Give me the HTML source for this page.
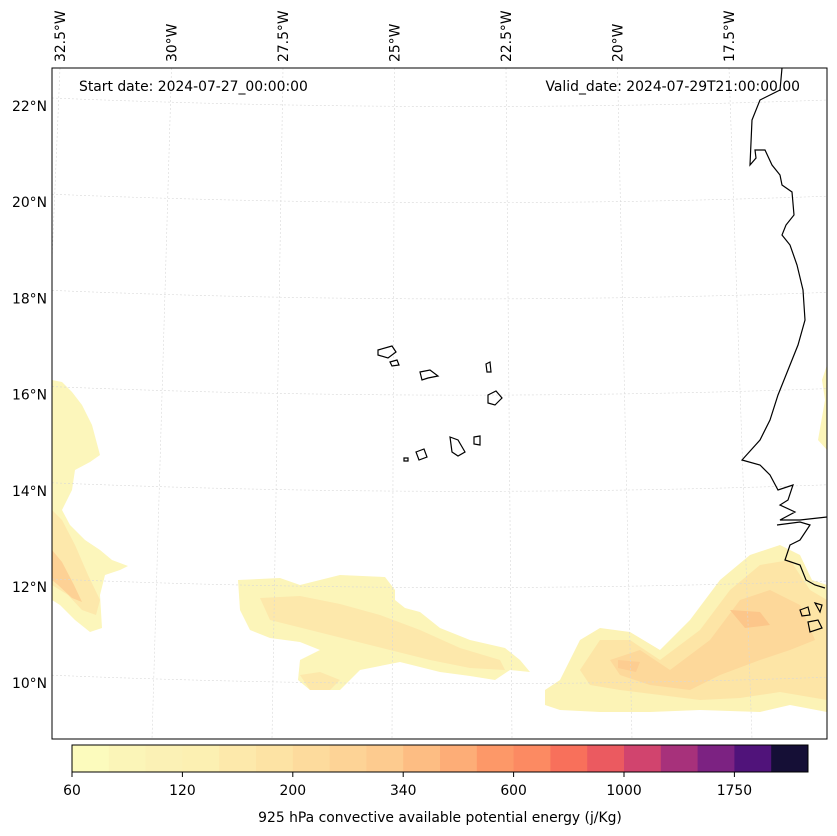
<!DOCTYPE html>
<html><head><meta charset="utf-8"><style>
body{margin:0;background:#fff}
svg{display:block;font-family:"DejaVu Sans","Liberation Sans",sans-serif}
</style></head><body>
<svg id="c" width="837" height="836" viewBox="0 0 837 836">
<defs><clipPath id="mapclip"><rect x="52" y="68" width="775" height="671"/></clipPath></defs>
<rect x="52" y="68" width="775" height="671" fill="#fff"/>
<g clip-path="url(#mapclip)">
 <path d="M52,380 L62,382 L72,392 L82,405 L92,425 L100,455 L90,462 L75,470 L72,490 L62,510 L70,525 L85,540 L100,550 L112,560 L128,566 L120,570 L105,575 L100,595 L102,628 L90,632 L75,620 L60,605 L52,600 Z" fill="#fcf6bb"/>
 <path d="M52,510 L62,520 L75,545 L88,575 L100,600 L96,615 L82,610 L68,595 L52,585 Z" fill="#fde8ab"/>
 <path d="M52,550 L62,562 L74,585 L82,602 L72,598 L58,585 L52,580 Z" fill="#fdd195"/>
 <path d="M238,580 L280,578 L300,585 L340,575 L385,577 L395,590 L395,600 L405,608 L420,612 L440,628 L470,640 L505,648 L520,660 L530,672 L510,670 L495,680 L470,676 L440,672 L400,662 L360,670 L340,690 L310,690 L298,680 L300,660 L320,650 L300,642 L270,638 L250,630 L240,610 Z" fill="#fcf5b9"/>
 <path d="M260,598 L300,596 L340,604 L380,615 L420,630 L460,648 L500,660 L505,670 L470,668 L430,660 L390,650 L350,640 L310,630 L270,620 Z" fill="#fde8ab"/>
 <path d="M300,675 L320,672 L340,680 L330,690 L310,690 Z" fill="#fde8ab"/>
 <path d="M545,690 L560,680 L580,640 L600,628 L630,632 L660,650 L690,620 L720,580 L750,555 L780,545 L800,555 L812,580 L827,585 L827,712 L790,705 L760,712 L700,710 L650,712 L600,712 L560,710 L545,705 Z" fill="#fcf3b6"/>
 <path d="M580,670 L600,640 L630,640 L660,660 L700,630 L730,590 L760,565 L790,560 L810,590 L827,600 L827,700 L780,692 L740,698 L700,700 L660,695 L620,690 L590,685 Z" fill="#fde5a6"/>
 <path d="M610,660 L640,650 L670,670 L710,640 L740,600 L770,590 L800,605 L815,640 L790,650 L760,660 L720,675 L690,690 L650,685 L620,675 Z" fill="#fdd89a"/>
 <path d="M730,610 L760,612 L770,625 L745,628 Z" fill="#fcc68a"/>
 <path d="M618,660 L640,662 L636,672 L618,668 Z" fill="#fdcd91"/>
 <path d="M827,365 L822,380 L825,400 L818,440 L827,450 Z" fill="#fcf5b9"/>
</g>
<g id="grid" clip-path="url(#mapclip)" fill="none" stroke="#d8d8d8" stroke-width="0.6" stroke-dasharray="2,2"></g>
<g fill="none" stroke="#000" stroke-width="1.2" clip-path="url(#mapclip)">
 <path d="M782,68 L780,90 L760,100 L752,120 L750,165 L756,158 L755,150 L765,150 L772,165 L780,175 L782,185 L792,192 L794,215 L786,225 L782,235 L790,245 L797,265 L803,290 L805,320 L798,345 L788,370 L778,395 L770,420 L760,440 L742,460 L760,465 L770,475 L778,490 L793,485 L788,500 L780,505 L795,512 L780,520 L800,520 L827,517"/>
 <path d="M777,525 L800,522 L810,525 L800,540 L790,545 L785,560 L800,565 L806,580 L815,585 L825,588"/>
 <path d="M378,350 L392,346 L396,352 L388,358 L378,355 Z"/>
 <path d="M390,362 L397,360 L399,365 L392,366 Z"/>
 <path d="M420,372 L430,370 L438,376 L428,378 L422,380 Z"/>
 <path d="M486,364 L490,362 L491,372 L487,372 Z"/>
 <path d="M488,395 L496,391 L502,398 L495,405 L488,403 Z"/>
 <path d="M450,437 L458,440 L465,452 L458,456 L452,452 Z"/>
 <path d="M474,437 L480,436 L480,445 L474,444 Z"/>
 <path d="M416,452 L424,449 L427,457 L419,460 Z"/>
 <path d="M404,458 L408,458 L408,461 L404,461 Z"/>
 <path d="M800,610 L808,607 L810,615 L802,616 Z M808,622 L818,620 L822,628 L810,632 Z M815,603 L822,605 L820,612 Z"/>
</g>
<rect x="52" y="68" width="775" height="671" fill="none" stroke="#000" stroke-width="1"/>
<g id="lonlabels" font-size="13.9"></g>
<g id="latlabels" font-size="13.9"></g>
<text x="79" y="91" font-size="13.9">Start date: 2024-07-27_00:00:00</text>
<text x="800" y="91" font-size="13.9" text-anchor="end">Valid_date: 2024-07-29T21:00:00.00</text>
<g id="cbar"></g>
<text x="440" y="822" font-size="13.9" text-anchor="middle">925 hPa convective available potential energy (j/Kg)</text>
</svg>
<script>
var NS="http://www.w3.org/2000/svg";
var lats=[22,20,18,16,14,12,10];
var lons=[32.5,30,27.5,25,22.5,20,17.5];
var cbColors=["#fcfbbd","#fbf5b8","#fbf1b5","#fcf0b2","#fde9ab","#fde3a4","#fddb9d","#fdd396","#fdcb8f","#fdbd83","#fdad77","#fd9868","#fc8a62","#f8705b","#eb5a60","#d1446e","#a7317b","#7c2282","#50137a","#150f36"];
var cbTicks=["60","120","200","340","600","1000","1750"];
var cbTickIdx=[0,3,6,9,12,15,18];
function el(t,a,p){var e=document.createElementNS(NS,t);for(var k in a)e.setAttribute(k,a[k]);p.appendChild(e);return e;}
function yLat(l){return 106+(22-l)*48.1;}
function xLonTop(l){return 60+(32.5-l)*44.6;}
function xLonBot(l){return 32+(32.5-l)*48;}
var grid=document.getElementById('grid');
lats.forEach(function(l){var y=yLat(l);
 var p=el('path',{d:'M52,'+(y-8)+' Q440,'+(y+8)+' 827,'+(y-6)},grid);
 
 
 var t=el('text',{x:47,y:y+5,'text-anchor':'end'},document.getElementById('latlabels'));t.textContent=l+'°N';
 
 
});
lons.forEach(function(l){var xt=xLonTop(l),xb=xLonBot(l);
 var p=el('line',{x1:xt,y1:68,x2:xb,y2:739},grid);
 
 
 var t=el('text',{transform:'translate('+(xt+5)+',62) rotate(-90)'},document.getElementById('lonlabels'));t.textContent=l+'°W';
 
 
});
var cb=document.getElementById('cbar');var x0=72,w=736,n=cbColors.length,cw=w/n;
cbColors.forEach(function(c,i){var r=el('rect',{x:x0+i*cw,y:745,width:cw+0.5,height:27,fill:c},cb);
 
 });
var fr=el('rect',{x:x0,y:745,width:w,height:27,fill:'none',stroke:'#000','stroke-width':1},cb);


cbTicks.forEach(function(s,i){var x=x0+cbTickIdx[i]*cw;
 el('line',{x1:x,y1:772,x2:x,y2:777,stroke:'#000'},cb);
 var t=el('text',{x:x,y:795,'font-size':13.9,'text-anchor':'middle'},cb);t.textContent=s;
 
 });
</script>
</body></html>
